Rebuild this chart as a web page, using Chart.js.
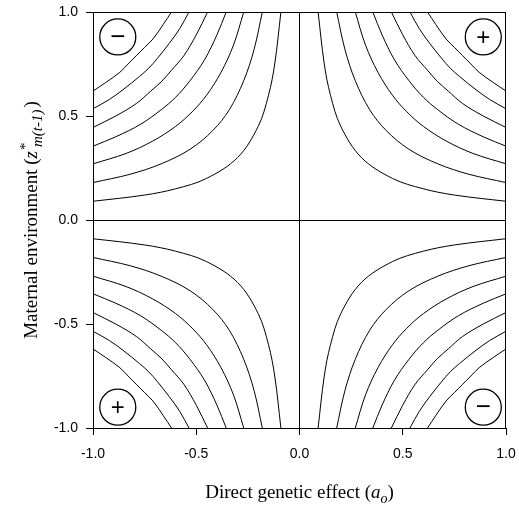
<!DOCTYPE html>
<html>
<head>
<meta charset="utf-8">
<script src="https://cdn.jsdelivr.net/npm/chart.js@4.4.0/dist/chart.umd.min.js"></script>
<style>
  html, body { margin:0; padding:0; background:#fff; }
  #wrap { width:519px; height:508px; position:relative; }
</style>
</head>
<body>
<div id="wrap"><canvas id="plot"></canvas></div>
<script>
// tick positions on both axes
var tickValues = [-1, -0.5, 0, 0.5, 1];

var curve1 = [[0.09,1.0],[0.12,0.75],[0.15,0.6],[0.2,0.45],[0.3,0.3],[0.45,0.2],[0.6,0.15],[0.75,0.12],[1.0,0.09]];
var curve2 = [[0.18,1.0],[0.22,0.82],[0.27,0.67],[0.34,0.53],[0.42,0.43],[0.53,0.34],[0.67,0.27],[0.82,0.22],[1.0,0.18]];
var curve3 = [[0.27,1.0],[0.32,0.84],[0.38,0.71],[0.45,0.6],[0.52,0.52],[0.6,0.45],[0.71,0.38],[0.84,0.32],[1.0,0.27]];
var curve4 = [[0.355,1.0],[0.4,0.89],[0.46,0.77],[0.53,0.67],[0.6,0.59],[0.67,0.53],[0.77,0.46],[0.89,0.4],[1.0,0.355]];
var curve5 = [[0.445,1.0],[0.5,0.89],[0.56,0.79],[0.62,0.72],[0.667,0.667],[0.72,0.62],[0.79,0.56],[0.89,0.5],[1.0,0.445]];
var curve6 = [[0.535,1.0],[0.58,0.92],[0.63,0.85],[0.69,0.775],[0.73,0.73],[0.775,0.69],[0.85,0.63],[0.92,0.58],[1.0,0.535]];
var curve7 = [[0.62,1.0],[0.66,0.94],[0.71,0.87],[0.75,0.83],[0.79,0.79],[0.83,0.75],[0.87,0.71],[0.94,0.66],[1.0,0.62]];
var curves = [curve1, curve2, curve3, curve4, curve5, curve6, curve7];

// the picture repeats the same set in every quadrant
var quadrantSigns = [[1,1],[-1,1],[-1,-1],[1,-1]];

// circled signs in the corners
var markerX = [-0.88, 0.89, -0.88, 0.89];
var markerY = [0.88, 0.88, -0.9, -0.9];
var markerText = ['\u2212', '+', '+', '\u2212'];

var datasets = [];
quadrantSigns.forEach(function(q){
    curves.forEach(function(c){
        datasets.push({
            data: c.map(function(p){ return {x: p[0]*q[0], y: p[1]*q[1]}; }),
            showLine: true,
            borderColor: '#000',
            borderWidth: 1,
            pointRadius: 0,
            tension: 0.35,
            fill: false
        });
    });
});
datasets.push({
    data: markerX.map(function(v, i){ return {x: v, y: markerY[i]}; }),
    showLine: false,
    pointStyle: 'circle',
    pointRadius: 18,
    pointHoverRadius: 18,
    pointBorderWidth: 1.3,
    pointBorderColor: '#000',
    pointBackgroundColor: 'rgba(255,255,255,0)'
});

var extras = {
    id: 'extras',
    afterDraw: function(chart){
        var c = chart.ctx, a = chart.chartArea;
        var xs = chart.scales.x, ys = chart.scales.y;
        c.save();
        // top and right frame
        c.strokeStyle = '#000';
        c.lineWidth = 1;
        c.strokeRect(a.left + 0.5, a.top + 0.5, a.right - a.left - 1, a.bottom - a.top);

        // signs in the circles
        c.fillStyle = '#000';
        c.textAlign = 'center';
        c.textBaseline = 'middle';
        markerText.forEach(function(t, i){
            c.font = (t === '+' ? '24px' : '26px') + ' "Liberation Sans", Arial, sans-serif';
            c.fillText(t, xs.getPixelForValue(markerX[i]), ys.getPixelForValue(markerY[i]) + 1);
        });

        // x title
        c.textAlign = 'left';
        c.textBaseline = 'alphabetic';
        var serif = '"Liberation Serif", "Times New Roman", serif';
        var xParts = [
            {t: 'Direct genetic effect (', f: '19px ' + serif, dy: 0},
            {t: 'a', f: 'italic 19px ' + serif, dy: 0},
            {t: 'o', f: 'italic 14px ' + serif, dy: 5},
            {t: ')', f: '19px ' + serif, dy: 0}
        ];
        var w = 0;
        xParts.forEach(function(p){ c.font = p.f; p.w = c.measureText(p.t).width; w += p.w; });
        var x0 = (a.left + a.right) / 2 - w / 2;
        xParts.forEach(function(p){
            c.font = p.f;
            c.fillText(p.t, x0, 498 + p.dy);
            x0 += p.w;
        });

        // y title, rotated
        c.translate(37, (a.top + a.bottom) / 2);
        c.rotate(-Math.PI / 2);
        var main = 'Maternal environment (';
        c.font = '19px ' + serif;
        var wMain = c.measureText(main).width;
        c.font = 'italic 19px ' + serif;
        var wz = c.measureText('z').width;
        c.font = 'italic 15px ' + serif;
        var sub = 'm(t-1)';
        var wSub = c.measureText(sub).width;
        c.font = '19px ' + serif;
        var wClose = c.measureText(')').width;
        var total = wMain + wz + 2 + wSub + 4 + wClose;
        var p = -total / 2;
        c.font = '19px ' + serif;
        c.fillText(main, p, 0); p += wMain;
        c.font = 'italic 19px ' + serif;
        c.fillText('z', p, 0); p += wz + 1;
        c.font = '15px ' + serif;
        c.fillText('*', p, -7);
        p += 1;
        c.font = 'italic 15px ' + serif;
        c.fillText(sub, p + 2, 5); p += wSub + 4;
        c.font = '19px ' + serif;
        c.fillText(')', p, 0);
        c.restore();
    }
};

function axis(pos){
    return {
        type: 'linear',
        position: pos,
        min: -1,
        max: 1,
        afterBuildTicks: function(s){ s.ticks = tickValues.map(function(v){ return {value: v}; }); },
        afterFit: function(s){
            if (pos === 'bottom') { s.height = 80; s.paddingLeft = 0; s.paddingRight = 0; }
            else { s.width = 93; s.paddingTop = 0; s.paddingBottom = 0; }
        },
        ticks: {
            color: '#000',
            padding: pos === 'bottom' ? 11 : 8,
            font: {family: '"Liberation Sans", Arial, sans-serif', size: 14},
            callback: function(v){ return v.toFixed(1); }
        },
        grid: {
            color: function(ctx){ return ctx.tick && ctx.tick.value === 0 ? '#000' : 'rgba(0,0,0,0)'; },
            tickColor: '#000',
            tickLength: 7,
            lineWidth: 1
        },
        border: {display: true, color: '#000', width: 1}
    };
}

var chart = new Chart(document.getElementById('plot'), {
    type: 'scatter',
    data: {datasets: datasets},
    options: {
        responsive: true,
        maintainAspectRatio: false,
        animation: false,
        layout: {autoPadding: false, padding: {left: 0, right: 13, top: 12, bottom: 0}},
        plugins: {legend: {display: false}, tooltip: {enabled: false}},
        scales: {x: axis('bottom'), y: axis('left')}
    },
    plugins: [extras]
});
</script>
</body>
</html>
